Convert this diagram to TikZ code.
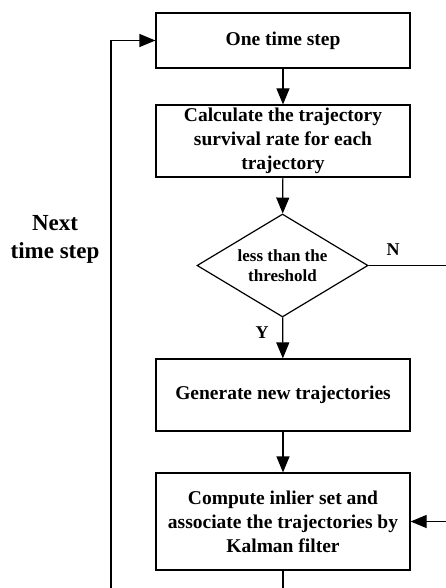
\documentclass[tikz,border=0pt]{standalone}
\usepackage{fontspec}
\setmainfont{Liberation Serif}
\usetikzlibrary{shapes.geometric,arrows.meta}
\newcommand{\bw}{254pt}
\newcommand{\cx}{283}

\begin{document}
\begin{tikzpicture}[x=1pt,y=-1pt,
    box/.style={draw, line width=1.2pt, rectangle, minimum width=\bw, inner sep=0pt, align=center,
        font=\fontsize{19.5}{24}\selectfont\bfseries},
    decide/.style={draw, line width=1.2pt, diamond, aspect=1.66, minimum width=171pt, minimum height=103pt,
        inner sep=0pt, align=center, font=\fontsize{17}{20.5}\selectfont\bfseries},
    lbl/.style={font=\fontsize{18}{22}\selectfont\bfseries, inner sep=0pt},
    arr/.style={line width=1.2pt, -{Triangle[length=16pt,width=13pt]}},
    ln/.style={line width=1.2pt}]
    \useasboundingbox (0,0) rectangle (446,588);
    \clip (0,0) rectangle (446,588);

    % boxes of the flow
    \node[box, minimum height=55pt] (step) at (\cx,40.5) {One time step};
    \node[box, minimum height=72pt] (survival) at (\cx,141) {Calculate the trajectory\\survival rate for each\\trajectory};
    \node[decide] (thresh) at (282.5,265.5) {less than the\\threshold};
    \node[box, minimum height=72pt] (generate) at (\cx,395) {Generate new trajectories};
    \node[box, minimum height=97pt] (compute) at (\cx,521.5) {Compute inlier set and\\associate the trajectories by\\Kalman filter};

    % labels
    \node[lbl] (no) at (393,250) {N};
    \node[lbl] (yes) at (262,333) {Y};
    \node[align=center, inner sep=0pt, font=\fontsize{23}{28}\selectfont\bfseries] (next) at (55,239) {Next\\time step};

    % corners outside the page
    \coordinate (rcorner) at (460,265.5);
    \coordinate (lcorner) at (111,600);

    % connectors
    \draw[arr] (step) -- (survival);
    \draw[arr] (survival) -- (thresh);
    \draw[arr] (thresh) -- (generate);
    \draw[arr] (generate) -- (compute);
    \draw[arr] (thresh.east) -- (rcorner) |- (compute.east);
    \draw[arr] (compute.south) |- (lcorner) |- (step.west);
\end{tikzpicture}
\end{document}
